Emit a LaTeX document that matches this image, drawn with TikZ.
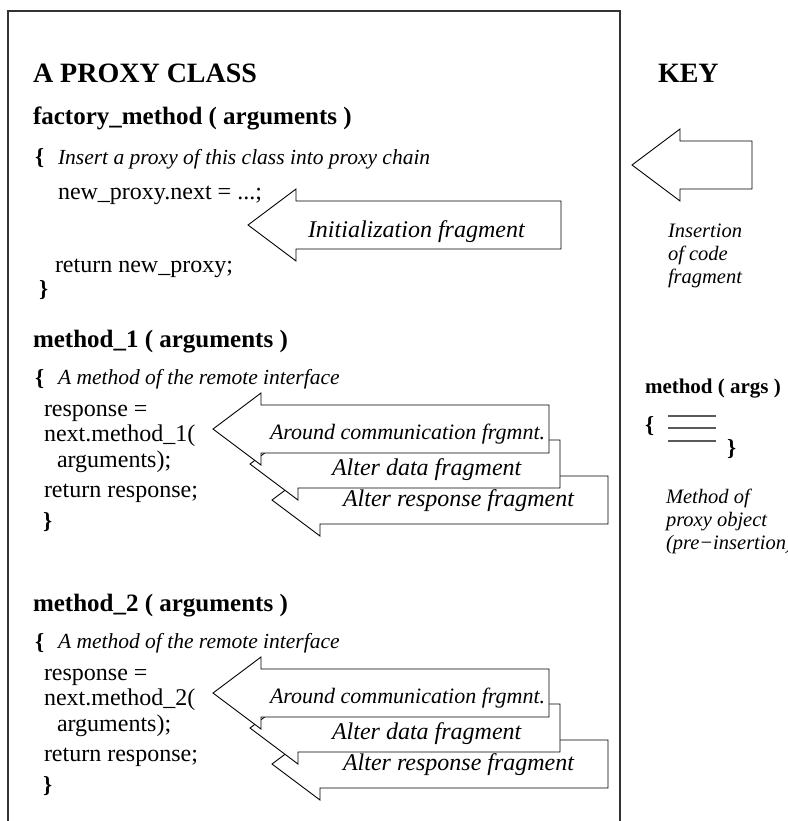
\documentclass[tikz,border=0pt]{standalone}
\usepackage{fontspec}
\setmainfont{Liberation Serif}

% Outline of a block arrow pointing left: tip x, centre y, right-hand x
\newcommand{\fragarrow}[3]{%
  \filldraw[arrowshape] (#1,#2) -- (#1+48,#2-36) -- (#1+48,#2-24) -- (#3,#2-24)
    -- (#3,#2+24) -- (#1+48,#2+24) -- (#1+48,#2+36) -- cycle;}

\tikzset{
  every node/.style={inner sep=0pt, outer sep=0pt},
  titletext/.style={anchor=base west, font=\fontsize{28}{32}\selectfont\bfseries},
  headtext/.style={anchor=base west, font=\fontsize{25}{29}\selectfont\bfseries},
  codetext/.style={anchor=base west, font=\fontsize{24}{28}\selectfont},
  notetext/.style={anchor=base west, font=\fontsize{21.5}{25}\selectfont\itshape},
  fragtext/.style={anchor=base west, font=\fontsize{24}{28}\selectfont\itshape},
  smallfrag/.style={anchor=base west, font=\fontsize{22}{26}\selectfont\itshape},
  bracetext/.style={anchor=base west, font=\fontsize{23}{27}\selectfont\bfseries},
  keytext/.style={anchor=base west, font=\fontsize{20.5}{24}\selectfont\itshape},
  keyhead/.style={anchor=base west, font=\fontsize{21}{25}\selectfont\bfseries},
  arrowshape/.style={draw=black, fill=white, line width=0.9pt, line join=miter},
  classbox/.style={draw=black!80, line width=1.2pt},
  bodyline/.style={draw=black!65, line width=1.6pt},
}

\begin{document}
\begin{tikzpicture}[x=1pt, y=-1pt]
  \useasboundingbox (0,0) rectangle (787,821);

  % class frame, open at the bottom
  \draw[classbox] (8,830) -- (8,11) -- (620,11) -- (620,830);

  \node[titletext] (title) at (33,83) {A PROXY CLASS};
  \node[titletext] (key) at (658,83) {KEY};

  % factory method
  \node[headtext] (factory) at (33,125) {factory\_method ( arguments )};
  \node[bracetext] (fopen) at (35,165) {\{};
  \node[notetext] (fnote) at (58,165) {Insert a proxy of this class into proxy chain};
  \node[codetext] (fnext) at (58,199) {new\_proxy.next = ...;};
  \fragarrow{248}{225}{561}
  \node[fragtext] (finit) at (308,237) {Initialization fragment};
  \node[codetext] (fret) at (55,272) {return new\_proxy;};
  \node[bracetext] (fclose) at (39,296) {\}};

  % method 1
  \node[headtext] (mone) at (33,347) {method\_1 ( arguments )};
  \node[bracetext] (mopen1) at (35,385) {\{};
  \node[notetext] (mnote1) at (58,384) {A method of the remote interface};
  \node[codetext] (mresp1) at (44,416) {response =};
  \node[codetext] (mcall1) at (44,441) {next.method\_1(};
  \node[codetext] (margs1) at (57,467) {arguments);};
  \node[codetext] (mret1) at (44,497) {return response;};
  \node[bracetext] (mclose1) at (43,528) {\}};
  \fragarrow{272}{500}{608}
  \fragarrow{250}{464}{560}
  \fragarrow{213}{429}{549}
  \node[smallfrag] (around1) at (270,439) {Around communication frgmnt.};
  \node[fragtext] (data1) at (332,475) {Alter data fragment};
  \node[fragtext] (resp1) at (343,506) {Alter response fragment};

  % method 2
  \node[headtext] (mtwo) at (33,611) {method\_2 ( arguments )};
  \node[bracetext] (mopen2) at (35,649) {\{};
  \node[notetext] (mnote2) at (58,648) {A method of the remote interface};
  \node[codetext] (mresp2) at (44,680) {response =};
  \node[codetext] (mcall2) at (44,705) {next.method\_2(};
  \node[codetext] (margs2) at (57,731) {arguments);};
  \node[codetext] (mret2) at (44,761) {return response;};
  \node[bracetext] (mclose2) at (43,792) {\}};
  \fragarrow{272}{764}{608}
  \fragarrow{250}{728}{560}
  \fragarrow{213}{693}{549}
  \node[smallfrag] (around2) at (270,703) {Around communication frgmnt.};
  \node[fragtext] (data2) at (332,739) {Alter data fragment};
  \node[fragtext] (resp2) at (343,770) {Alter response fragment};

  % key: insertion arrow
  \fragarrow{632}{165}{752}
  \node[keytext] (kins) at (668,237) {Insertion};
  \node[keytext] (kcode) at (668,260) {of code};
  \node[keytext] (kfrag) at (668,283) {fragment};

  % key: method body
  \node[keyhead] (kmeth) at (645,393) {method ( args )};
  \node[bracetext] (kopen) at (645,432) {\{};
  \draw[bodyline] (668,416) -- (716,416);
  \draw[bodyline] (668,428) -- (716,428);
  \draw[bodyline] (668,441) -- (716,441);
  \node[bracetext] (kclose) at (727,455) {\}};
  \node[keytext] (kmo) at (666,503) {Method of};
  \node[keytext] (kpo) at (666,526) {proxy object};
  \node[keytext] (kpre) at (666,549) {(pre−insertion)};
\end{tikzpicture}
\end{document}
